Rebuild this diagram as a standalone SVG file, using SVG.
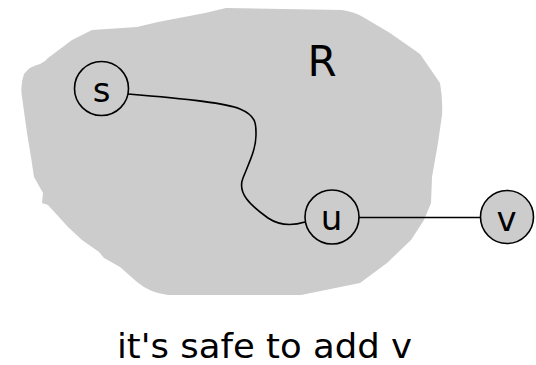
<svg xmlns="http://www.w3.org/2000/svg" width="536" height="365" viewBox="0 0 536 365">
<style>
.node{fill:#cccccc;stroke:#000;stroke-width:1.6}
.lbl{font-family:"DejaVu Sans",sans-serif;font-size:34px;fill:#000;text-anchor:middle}
.edge{fill:none;stroke:#000;stroke-width:1.6}
</style>
<rect width="536" height="365" fill="#fff"/>
<g id="region">
<path fill="#cccccc" d="M226,8 L342,10 Q355,12 363,17 L390,33 L420,54 L440,83 Q443,100 442,115 L438,143 L432,177 L431,203 L424,220 L411,240 L387,263 L360,283 L301,295 L168,295 Q150,293 137,282 L120,267 L104,258 L99,252 L82,240 L68,227 L48,205 L42,203 L43,193 L34,177 L31,157 L27,133 L22,97 Q20,85 24,74 Q30,66 40,64 L45,61 L48,58 L72,40 L92,30 L137,27 L158,22 L205,13 Z"/>
<text class="lbl" x="322" y="76" style="font-size:42px">R</text>
</g>
<g id="connectors">
<path class="edge" d="M128,94 C190,99 225,103 240,109 C257,116 256,125 256,135 C256,150 248,165 243,178 C237,193 250,205 268,218 C280,226 292,226 305,222"/>
<line class="edge" x1="359" y1="217.5" x2="480" y2="217.5"/>
</g>
<g id="node-s">
<circle class="node" cx="101.5" cy="88.5" r="27"/>
<text class="lbl" x="101.5" y="101.5">s</text>
</g>
<g id="node-u">
<circle class="node" cx="332" cy="217" r="27"/>
<text class="lbl" x="331.5" y="230">u</text>
</g>
<g id="node-v">
<circle class="node" cx="507" cy="217" r="26.5"/>
<text class="lbl" x="506.5" y="230.5">v</text>
</g>
<text class="lbl" x="264.5" y="358" textLength="295" lengthAdjust="spacingAndGlyphs">it's safe to add v</text>
</svg>
